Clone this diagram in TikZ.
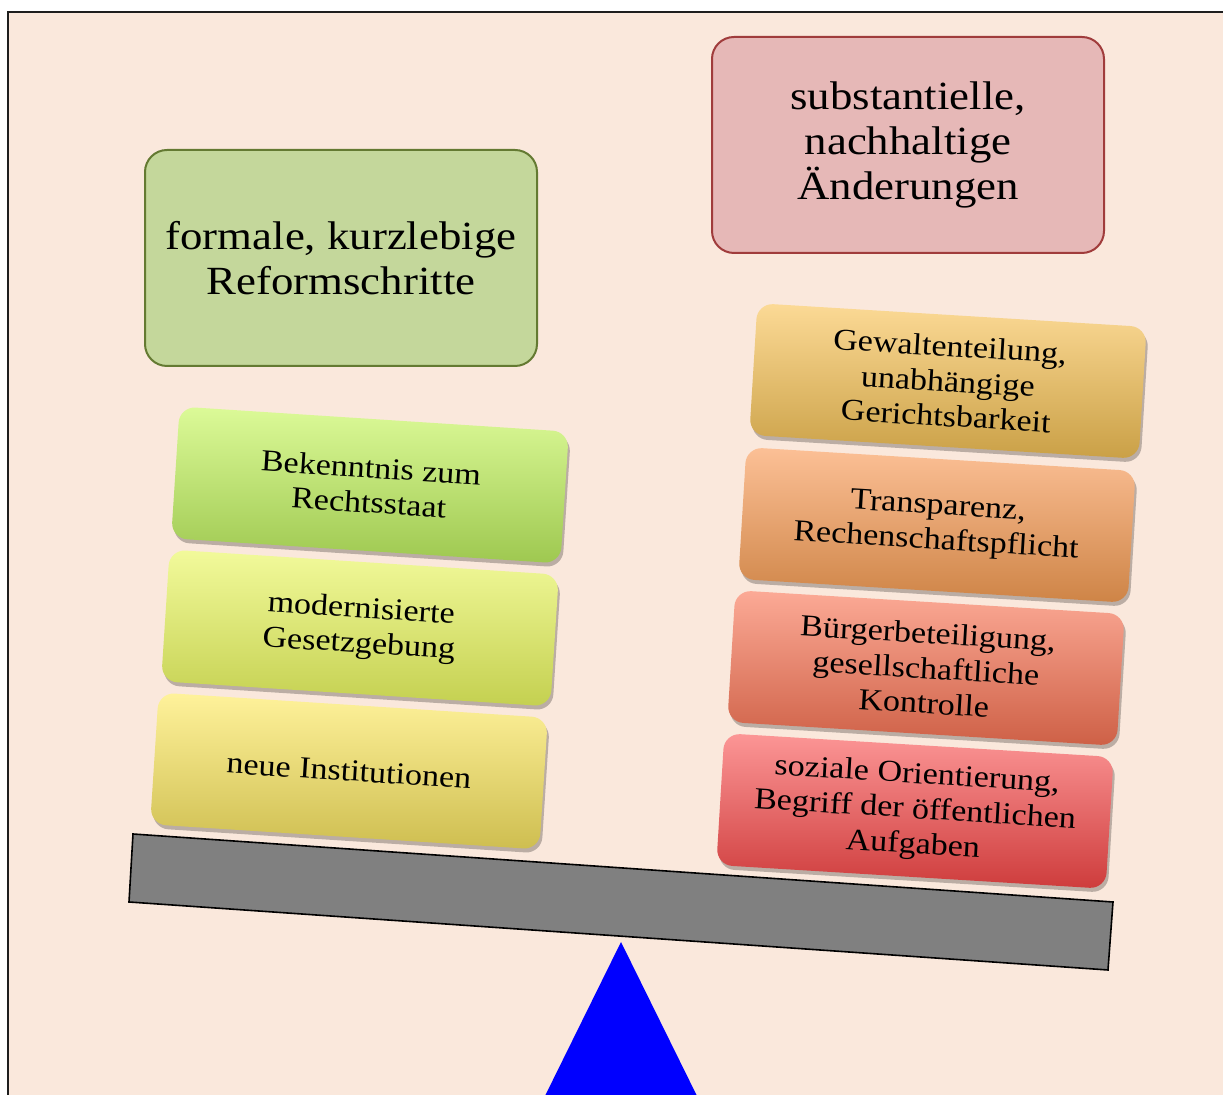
\documentclass[tikz,border=0pt]{standalone}
\usepackage{fontspec}
\setmainfont{Liberation Serif}[FakeStretch=1.12]
\usetikzlibrary{shadows}
\definecolor{bg}{RGB}{250,232,220}
\definecolor{framec}{RGB}{30,30,30}
\definecolor{gfill}{RGB}{196,215,155}
\definecolor{gdraw}{RGB}{100,122,50}
\definecolor{rfill}{RGB}{230,184,183}
\definecolor{rdraw}{RGB}{160,60,60}
\definecolor{beamc}{RGB}{128,128,128}
\definecolor{la1}{RGB}{220,250,152}\definecolor{lb1}{RGB}{158,200,80}
\definecolor{la2}{RGB}{242,250,155}\definecolor{lb2}{RGB}{196,208,80}
\definecolor{la3}{RGB}{255,242,155}\definecolor{lb3}{RGB}{206,190,80}
\definecolor{ra1}{RGB}{252,218,150}\definecolor{rb1}{RGB}{202,160,70}
\definecolor{ra2}{RGB}{252,192,150}\definecolor{rb2}{RGB}{206,132,70}
\definecolor{ra3}{RGB}{252,170,150}\definecolor{rb3}{RGB}{206,96,70}
\definecolor{ra4}{RGB}{252,150,150}\definecolor{rb4}{RGB}{206,60,60}
\tikzset{
  bigbox/.style={rounded corners=11pt, line width=1pt, minimum width=196pt, minimum height=108pt,
    align=center, text=black, font=\fontsize{20}{22.5}\selectfont},
  tile/.style={rounded corners=8pt, minimum width=195pt, minimum height=66pt, align=center,
    text=black, font=\fontsize{15.2}{17.5}\selectfont,
    drop shadow={shadow xshift=1pt, shadow yshift=-2pt, opacity=0.25, fill=black}},
  ltile/.style={tile, rotate=-3.7},
  rtile/.style={tile, rotate=-3.5},
}
\begin{document}
\begin{tikzpicture}[x=0.5pt,y=-0.5pt]
\useasboundingbox (0,0) rectangle (1223,1095);
\begin{scope}
\clip (0,0) rectangle (1223,1095);
\fill[bg] (8,12) rectangle (1240,1110);
\draw[line width=1.1pt, framec] (8,1110) -- (8,12) -- (1240,12);
\fill[blue] (621,942) -- (699,1100) -- (543,1100) -- cycle;
\end{scope}
\draw[fill=beamc, line width=0.8pt] (133,834) -- (1113,902) -- (1108,970) -- (129,902) -- cycle;

\node[bigbox, fill=gfill, draw=gdraw] (formal) at (341,258) {formale, kurzlebige\\Reformschritte};
\node[bigbox, fill=rfill, draw=rdraw] (subst) at (908,145) {substantielle,\\nachhaltige\\Änderungen};

\node[ltile, top color=la1, bottom color=lb1] (l1) at (370,485) {Bekenntnis zum\\Rechtsstaat};
\node[ltile, top color=la2, bottom color=lb2] (l2) at (360,628) {modernisierte\\Gesetzgebung};
\node[ltile, top color=la3, bottom color=lb3] (l3) at (349,771) {neue Institutionen};

\node[rtile, top color=ra1, bottom color=rb1] (r1) at (948,381) {Gewaltenteilung,\\unabhängige\\Gerichtsbarkeit};
\node[rtile, top color=ra2, bottom color=rb2] (r2) at (937,525) {Transparenz,\\Rechenschaftspflicht};
\node[rtile, top color=ra3, bottom color=rb3] (r3) at (926,668) {Bürgerbeteiligung,\\gesellschaftliche\\Kontrolle};
\node[rtile, top color=ra4, bottom color=rb4] (r4) at (915,811) {soziale Orientierung,\\Begriff der öffentlichen\\Aufgaben};
\end{tikzpicture}
\end{document}
